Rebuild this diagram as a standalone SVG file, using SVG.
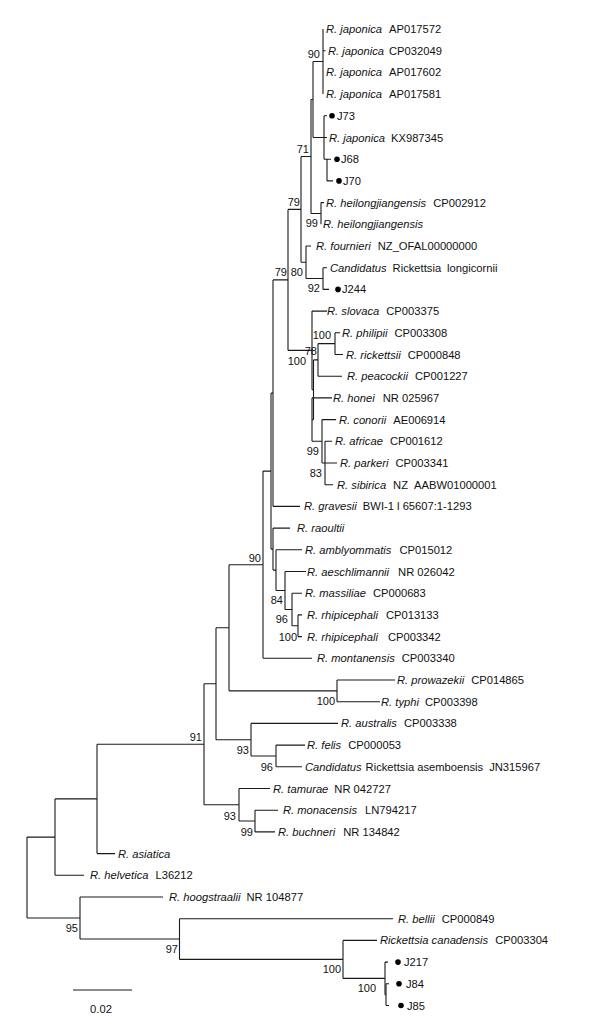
<svg xmlns="http://www.w3.org/2000/svg" width="600" height="1033" viewBox="0 0 600 1033">
<style>
.l{fill:none;stroke:#1a1a1a;stroke-width:1.1}
.t{font-family:"Liberation Sans",Arial,sans-serif;font-size:11.2px;fill:#111}
.i{font-style:italic}
.b{font-family:"Liberation Sans",Arial,sans-serif;font-size:11px;fill:#111;text-anchor:end}
.d{fill:#000}
</style>
<rect width="600" height="1033" fill="#fff"/>
<g id="connectors" class="l">
<path d="M27 837.1V918M27 837.1H55M27 918H80"/>
<path d="M55 798.9V875.3M55 798.9H97M55 875.3H84"/>
<path d="M97 744.3V853.6M97 744.3H204M97 853.6H115"/>
<path d="M204 683.7V804.8M204 683.7H216M204 804.8H239"/>
<path d="M216 627.8V739.7M216 627.8H229M216 739.7H251"/>
<path d="M229 564.7V690.85M229 564.7H263M229 690.85H337"/>
<path d="M337 680V701.7M337 680H395M337 701.7H380"/>
<path d="M251 723.4V755.95M251 723.4H338M251 755.95H276"/>
<path d="M276 745.1V766.8M276 745.1H305M276 766.8H302"/>
<path d="M239 788.5V821.05M239 788.5H270M239 821.05H255"/>
<path d="M255 810.2V831.9M255 810.2H278M255 831.9H275"/>
<path d="M263 471.1V658.3M263 471.1H271M263 658.3H312"/>
<path d="M271 393.15V549.1M271 393.15H273M271 549.1H273"/>
<path d="M273 279.9V506.4M273 279.9H288M273 506.4H300"/>
<path d="M273 528.1V570.1M273 528.1H290M273 570.1H276"/>
<path d="M276 549.8V590.5M276 549.8H302M276 590.5H285"/>
<path d="M285 571.5V609.5M285 571.5H306M285 609.5H292"/>
<path d="M292 593.2V625.75M292 593.2H302M292 625.75H298"/>
<path d="M298 614.9V636.6M298 614.9H302M298 636.6H302"/>
<path d="M288 209.4V350.4M288 209.4H301M288 350.4H312"/>
<path d="M301 156.5V262.3M301 156.5H311M301 262.3H306"/>
<path d="M311 99.5V213.45M311 99.5H313M311 213.45H321"/>
<path d="M313 61.55V137.5M313 61.55H323M313 137.5H324"/>
<path d="M323 29V94.1M323 50.7H325.5"/>
<path d="M324 115.8V159.2M324 115.8H327M324 137.5H327M324 159.2H331M327 159.2V180.9M327 180.9H333"/>
<path d="M321 202.6V224.3M321 202.6H324"/>
<path d="M306 246V278.55M306 246H311M306 278.55H323"/>
<path d="M323 267.7V289.4M323 267.7H327M323 289.4H329"/>
<path d="M312 311.1V389.75M312 311.1H327M312 389.75H313.5"/>
<path d="M313.5 359.9V419.6M313.5 359.9H318M313.5 419.6H312"/>
<path d="M312 397.9V441.3M312 397.9H332M312 441.3H322"/>
<path d="M318 343.65V376.2M318 343.65H335M318 376.2H342"/>
<path d="M335 332.8V354.5M335 332.8H340M335 354.5H343"/>
<path d="M322 419.6V463M322 419.6H336M322 463H325"/>
<path d="M325 441.3V484.7M325 441.3H332M325 463H337M325 484.7H333"/>
<path d="M80 897V939.05M80 897H163M80 939.05H179.5"/>
<path d="M179.5 918.7V959.4M179.5 918.7H393M179.5 959.4H343"/>
<path d="M343 940.4V978.4M343 940.4H377M343 978.4H385"/>
<path d="M385 962.1V994.65M385 962.1H388M385 994.65H386"/>
<path d="M386 983.8V1005.5M386 983.8H389M386 1005.5H389"/>
</g>
<g id="support-labels">
<text class="b" x="320" y="58">90</text>
<text class="b" x="309" y="153">71</text>
<text class="b" x="300" y="206">79</text>
<text class="b" x="318" y="227">99</text>
<text class="b" x="287" y="276">79</text>
<text class="b" x="303" y="276">80</text>
<text class="b" x="320" y="292">92</text>
<text class="b" x="331" y="339">100</text>
<text class="b" x="317" y="355">78</text>
<text class="b" x="306" y="365">100</text>
<text class="b" x="319" y="455">99</text>
<text class="b" x="322" y="477">83</text>
<text class="b" x="261" y="562">90</text>
<text class="b" x="283" y="604">84</text>
<text class="b" x="288" y="623">96</text>
<text class="b" x="297" y="641">100</text>
<text class="b" x="335" y="705">100</text>
<text class="b" x="202" y="741">91</text>
<text class="b" x="249" y="754">93</text>
<text class="b" x="273" y="771">96</text>
<text class="b" x="236" y="820">93</text>
<text class="b" x="253" y="836">99</text>
<text class="b" x="78" y="932">95</text>
<text class="b" x="178" y="953">97</text>
<text class="b" x="341" y="973">100</text>
<text class="b" x="376" y="992">100</text>
</g>
<g id="leaf-japonica-AP017572"><text class="t" x="326" y="33"><tspan class="i">R. japonica</tspan><tspan dx="7">AP017572</tspan></text></g>
<g id="leaf-japonica-CP032049"><text class="t" x="328" y="54.7"><tspan class="i">R. japonica</tspan><tspan dx="5">CP032049</tspan></text></g>
<g id="leaf-japonica-AP017602"><text class="t" x="326" y="76.4"><tspan class="i">R. japonica</tspan><tspan dx="7">AP017602</tspan></text></g>
<g id="leaf-japonica-AP017581"><text class="t" x="326" y="98.1"><tspan class="i">R. japonica</tspan><tspan dx="7">AP017581</tspan></text></g>
<g id="leaf-J73"><circle class="d" cx="332" cy="115.8" r="2.8"/><text class="t" x="337" y="119.8">J73</text></g>
<g id="leaf-japonica-KX987345"><text class="t" x="329" y="141.5"><tspan class="i">R. japonica</tspan><tspan dx="6">KX987345</tspan></text></g>
<g id="leaf-J68"><circle class="d" cx="337" cy="159.2" r="2.8"/><text class="t" x="341" y="163.2">J68</text></g>
<g id="leaf-J70"><circle class="d" cx="339" cy="180.9" r="2.8"/><text class="t" x="343" y="184.9">J70</text></g>
<g id="leaf-heilongjiangensis-CP002912"><text class="t" x="326" y="206.6"><tspan class="i">R. heilongjiangensis</tspan><tspan dx="7">CP002912</tspan></text></g>
<g id="leaf-heilongjiangensis"><text class="t i" x="323" y="228.3">R. heilongjiangensis</text></g>
<g id="leaf-fournieri"><text class="t" x="316" y="250"><tspan class="i">R. fournieri</tspan><tspan dx="7">NZ_OFAL00000000</tspan></text></g>
<g id="leaf-longicornii"><text class="t" x="330" y="271.7"><tspan class="i">Candidatus</tspan><tspan dx="6">Rickettsia</tspan><tspan dx="6">longicornii</tspan></text></g>
<g id="leaf-J244"><circle class="d" cx="338" cy="289.4" r="2.8"/><text class="t" x="342" y="293.4">J244</text></g>
<g id="leaf-slovaca"><text class="t" x="327" y="315.1"><tspan class="i">R. slovaca</tspan><tspan dx="7">CP003375</tspan></text></g>
<g id="leaf-philipii"><text class="t" x="342" y="336.8"><tspan class="i">R. philipii</tspan><tspan dx="7">CP003308</tspan></text></g>
<g id="leaf-rickettsii"><text class="t" x="346" y="358.5"><tspan class="i">R. rickettsii</tspan><tspan dx="7">CP000848</tspan></text></g>
<g id="leaf-peacockii"><text class="t" x="347" y="380.2"><tspan class="i">R. peacockii</tspan><tspan dx="7">CP001227</tspan></text></g>
<g id="leaf-honei"><text class="t" x="333" y="401.9"><tspan class="i">R. honei</tspan><tspan dx="8">NR 025967</tspan></text></g>
<g id="leaf-conorii"><text class="t" x="339" y="423.6"><tspan class="i">R. conorii</tspan><tspan dx="7">AE006914</tspan></text></g>
<g id="leaf-africae"><text class="t" x="335" y="445.3"><tspan class="i">R. africae</tspan><tspan dx="7">CP001612</tspan></text></g>
<g id="leaf-parkeri"><text class="t" x="340" y="467"><tspan class="i">R. parkeri</tspan><tspan dx="7">CP003341</tspan></text></g>
<g id="leaf-sibirica"><text class="t" x="337" y="488.7"><tspan class="i">R. sibirica</tspan><tspan dx="7">NZ</tspan><tspan dx="6">AABW01000001</tspan></text></g>
<g id="leaf-gravesii"><text class="t" x="304" y="510.4"><tspan class="i">R. gravesii</tspan><tspan dx="6">BWI-1 l 65607:1-1293</tspan></text></g>
<g id="leaf-raoultii"><text class="t i" x="297" y="532.1">R. raoultii</text></g>
<g id="leaf-amblyommatis"><text class="t" x="305" y="553.8"><tspan class="i">R. amblyommatis</tspan><tspan dx="8">CP015012</tspan></text></g>
<g id="leaf-aeschlimannii"><text class="t" x="307" y="575.5"><tspan class="i">R. aeschlimannii</tspan><tspan dx="9">NR 026042</tspan></text></g>
<g id="leaf-massiliae"><text class="t" x="305" y="597.2"><tspan class="i">R. massiliae</tspan><tspan dx="7">CP000683</tspan></text></g>
<g id="leaf-rhipicephali-CP013133"><text class="t" x="307" y="618.9"><tspan class="i">R. rhipicephali</tspan><tspan dx="8">CP013133</tspan></text></g>
<g id="leaf-rhipicephali-CP003342"><text class="t" x="307" y="640.6"><tspan class="i">R. rhipicephali</tspan><tspan dx="10">CP003342</tspan></text></g>
<g id="leaf-montanensis"><text class="t" x="317" y="662.3"><tspan class="i">R. montanensis</tspan><tspan dx="7">CP003340</tspan></text></g>
<g id="leaf-prowazekii"><text class="t" x="397" y="684"><tspan class="i">R. prowazekii</tspan><tspan dx="7">CP014865</tspan></text></g>
<g id="leaf-typhi"><text class="t" x="381" y="705.7"><tspan class="i">R. typhi</tspan><tspan dx="6">CP003398</tspan></text></g>
<g id="leaf-australis"><text class="t" x="341" y="727.4"><tspan class="i">R. australis</tspan><tspan dx="7">CP003338</tspan></text></g>
<g id="leaf-felis"><text class="t" x="307" y="749.1"><tspan class="i">R. felis</tspan><tspan dx="7">CP000053</tspan></text></g>
<g id="leaf-asemboensis"><text class="t" x="305" y="770.8"><tspan class="i">Candidatus</tspan><tspan dx="4">Rickettsia asemboensis</tspan><tspan dx="6">JN315967</tspan></text></g>
<g id="leaf-tamurae"><text class="t" x="273" y="792.5"><tspan class="i">R. tamurae</tspan><tspan dx="6">NR 042727</tspan></text></g>
<g id="leaf-monacensis"><text class="t" x="283" y="814.2"><tspan class="i">R. monacensis</tspan><tspan dx="8">LN794217</tspan></text></g>
<g id="leaf-buchneri"><text class="t" x="278" y="835.9"><tspan class="i">R. buchneri</tspan><tspan dx="8">NR 134842</tspan></text></g>
<g id="leaf-asiatica"><text class="t i" x="118" y="857.6">R. asiatica</text></g>
<g id="leaf-helvetica"><text class="t" x="90" y="879.3"><tspan class="i">R. helvetica</tspan><tspan dx="7">L36212</tspan></text></g>
<g id="leaf-hoogstraalii"><text class="t" x="169" y="901"><tspan class="i">R. hoogstraalii</tspan><tspan dx="6">NR 104877</tspan></text></g>
<g id="leaf-bellii"><text class="t" x="398" y="922.7"><tspan class="i">R. bellii</tspan><tspan dx="7">CP000849</tspan></text></g>
<g id="leaf-canadensis"><text class="t" x="380" y="944.4"><tspan class="i">Rickettsia canadensis</tspan><tspan dx="7">CP003304</tspan></text></g>
<g id="leaf-J217"><circle class="d" cx="398" cy="962.1" r="2.8"/><text class="t" x="404" y="966.1">J217</text></g>
<g id="leaf-J84"><circle class="d" cx="399" cy="983.8" r="2.8"/><text class="t" x="406" y="987.8">J84</text></g>
<g id="leaf-J85"><circle class="d" cx="401" cy="1005.5" r="2.8"/><text class="t" x="407" y="1009.5">J85</text></g>
<g id="scale-bar"><path class="l" d="M73 990H132"/><text class="t" x="101" y="1013" text-anchor="middle">0.02</text></g>
</svg>
